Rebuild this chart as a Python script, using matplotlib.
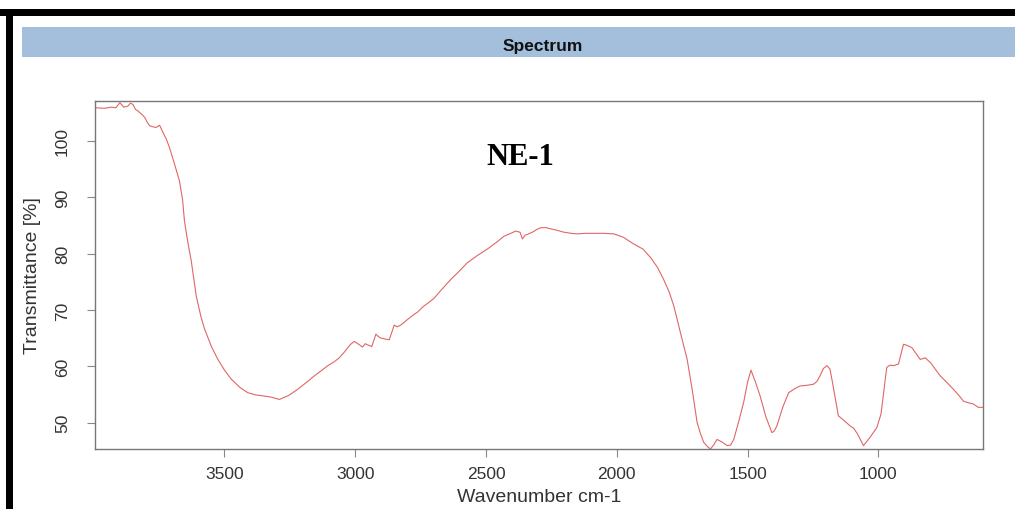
import matplotlib
matplotlib.use("Agg")
import matplotlib.pyplot as plt
from matplotlib.patches import Rectangle

wavenumber = [3993, 3960, 3932, 3915, 3900, 3885, 3869, 3860, 3850, 3840, 3830, 3818,
              3805, 3795, 3786, 3772, 3761, 3748, 3735, 3722, 3710, 3691, 3672, 3660,
              3653, 3640, 3627, 3608, 3590, 3576, 3550, 3525, 3500, 3474, 3440, 3411,
              3380, 3347, 3320, 3290, 3255, 3220, 3190, 3156, 3130, 3105, 3080, 3061,
              3040, 3020, 3004, 2990, 2972, 2962, 2953, 2937, 2921, 2910, 2902, 2883,
              2870, 2851, 2840, 2826, 2800, 2775, 2762, 2740, 2711, 2698, 2670, 2635,
              2600, 2571, 2535, 2495, 2460, 2431, 2405, 2387, 2370, 2361, 2350, 2342,
              2323, 2305, 2291, 2270, 2253, 2225, 2202, 2175, 2151, 2120, 2088, 2050,
              2011, 1975, 1948, 1935, 1900, 1871, 1845, 1821, 1800, 1782, 1757, 1731,
              1712, 1693, 1680, 1668, 1655, 1642, 1630, 1617, 1600, 1578, 1565, 1553,
              1535, 1515, 1500, 1487, 1470, 1452, 1430, 1407, 1398, 1388, 1365, 1343,
              1320, 1299, 1275, 1248, 1235, 1223, 1210, 1197, 1185, 1175, 1153, 1130,
              1108, 1095, 1080, 1057, 1030, 1006, 990, 968, 955, 942, 923, 904, 890,
              872, 855, 840, 821, 800, 764, 740, 713, 690, 675, 655, 637, 618, 600]
transmittance = [105.9, 105.8, 106.0, 105.9, 106.8, 106.0, 106.2, 106.7, 106.5, 105.6, 105.3, 104.8,
                 104.2, 103.3, 102.7, 102.5, 102.4, 102.8, 101.5, 100.3, 98.8, 95.9, 92.9, 89.5,
                 85.8, 82.0, 78.7, 72.5, 68.8, 66.6, 63.5, 61.2, 59.3, 57.7, 56.2, 55.3,
                 54.9, 54.7, 54.5, 54.1, 54.8, 55.9, 57.0, 58.3, 59.2, 60.1, 60.8, 61.5,
                 62.6, 63.8, 64.4, 64.0, 63.4, 64.0, 63.8, 63.5, 65.7, 65.2, 65.0, 64.8,
                 64.7, 67.3, 67.0, 67.3, 68.3, 69.2, 69.6, 70.6, 71.6, 72.1, 73.6, 75.4,
                 77.0, 78.4, 79.6, 80.8, 82.0, 83.1, 83.6, 84.0, 83.8, 82.6, 83.3, 83.4,
                 83.8, 84.3, 84.6, 84.6, 84.4, 84.1, 83.8, 83.6, 83.5, 83.6, 83.6, 83.6,
                 83.5, 82.9, 82.1, 81.7, 80.8, 79.3, 77.6, 75.4, 73.2, 70.7, 66.0, 61.2,
                 55.9, 50.0, 48.0, 46.5, 45.8, 45.3, 46.0, 47.0, 46.6, 45.9, 46.0, 47.0,
                 50.0, 53.6, 57.2, 59.3, 57.2, 54.7, 51.0, 48.2, 48.5, 49.4, 52.8, 55.3,
                 56.0, 56.5, 56.6, 56.8, 57.3, 58.3, 59.6, 60.1, 59.5, 57.0, 51.2, 50.3,
                 49.4, 49.0, 48.0, 45.9, 47.5, 49.1, 51.5, 59.8, 60.2, 60.1, 60.4, 63.9, 63.7,
                 63.3, 62.2, 61.2, 61.5, 60.6, 58.3, 57.2, 55.9, 54.7, 53.8, 53.5, 53.3, 52.7, 52.7]

fig = plt.figure(figsize=(10.15, 5.10), dpi=100)

# outer black frame (top and left edges of the cropped screenshot)
fig.patches.append(Rectangle((0.0, 1 - 17 / 510), 1.0, 7 / 510, transform=fig.transFigure,
                             facecolor="black", edgecolor="none"))
fig.patches.append(Rectangle((6 / 1015, 0.0), 7 / 1015, 1 - 10 / 510, transform=fig.transFigure,
                             facecolor="black", edgecolor="none"))
# blue title band
fig.patches.append(Rectangle((22 / 1015, 1 - 58 / 510), 1.0, 30 / 510, transform=fig.transFigure,
                             facecolor="#a3bfdc", edgecolor="none"))
fig.text(543 / 1015, 1 - 46 / 510, "Spectrum", ha="center", va="center",
         fontsize=12.5, fontweight="bold", family="Liberation Sans", color="#111111")

ax = fig.add_axes([95 / 1015, 1 - 450 / 510, 888 / 1015, 348 / 510])
ax.plot(wavenumber, transmittance, color="#e06666", lw=0.8)
ax.set_xlim(3995, 600)
ax.set_ylim(45.3, 107.1)

ax.set_xticks([3500, 3000, 2500, 2000, 1500, 1000])
ax.set_yticks([50, 60, 70, 80, 90, 100])
for s in ax.spines.values():
    s.set_color("#777777")
    s.set_linewidth(1.0)
ax.tick_params(direction="out", length=6, color="#888888", labelcolor="#333333", labelsize=12.5)
ax.tick_params(axis="x", pad=6)
ax.tick_params(axis="y", pad=12)
for lab in ax.get_yticklabels():
    lab.set_rotation(90)
    lab.set_va("center")
for lab in ax.get_xticklabels() + ax.get_yticklabels():
    lab.set_family("Liberation Sans")

ax.set_xlabel("Wavenumber cm-1", fontsize=14, family="Liberation Sans", color="#333333", labelpad=5)
ax.set_ylabel("Transmittance [%]", fontsize=14, family="Liberation Sans", color="#333333", labelpad=10)

ax.text(0.479, 0.84, "NE-1", transform=ax.transAxes, ha="center", va="center",
        fontsize=22, fontweight="bold", family="Liberation Serif")

fig.savefig("out.png", dpi=100)
